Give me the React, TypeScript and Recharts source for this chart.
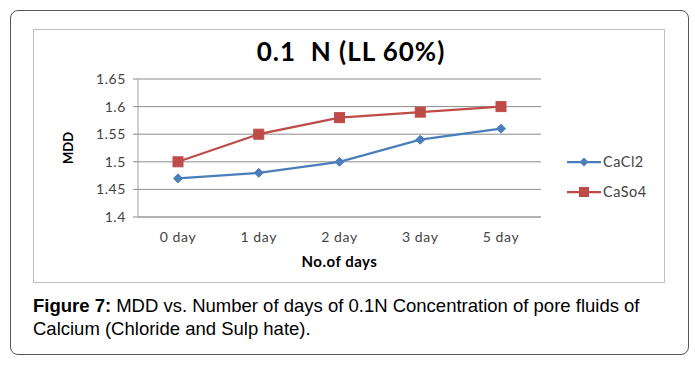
import React from "react";
import { LineChart, Line, XAxis, YAxis, CartesianGrid, Label } from "recharts";

const categories = ["0 day", "1 day", "2 day", "3 day", "5 day"];
const cacl2 = [1.47, 1.48, 1.5, 1.54, 1.56];
const caso4 = [1.5, 1.55, 1.58, 1.59, 1.6];
const yTicks = [1.4, 1.45, 1.5, 1.55, 1.6, 1.65];

const data = categories.map((c, i) => ({ day: c, CaCl2: cacl2[i], CaSo4: caso4[i] }));

const BLUE = "#4A7EBB";
const RED = "#BE4B48";
const FONT = "Lato, 'Open Sans', sans-serif";

const Diamond = (props: any) => {
  const { cx, cy } = props;
  if (cx == null || cy == null) return null;
  const r = 4.5;
  return <path d={`M${cx},${cy - r}L${cx + r},${cy}L${cx},${cy + r}L${cx - r},${cy}Z`} fill={BLUE} stroke={BLUE} strokeWidth={1} />;
};

const Square = (props: any) => {
  const { cx, cy } = props;
  if (cx == null || cy == null) return null;
  const s = 10;
  return <rect x={cx - s / 2} y={cy - s / 2} width={s} height={s} fill={RED} stroke={RED} strokeWidth={1} />;
};

export default function App() {
  return (
    <div style={{ position: "absolute", left: 0, top: 0, width: 695, height: 365, background: "#fff" }}>
      <div
        style={{
          position: "absolute",
          left: 10,
          top: 10,
          width: 677,
          height: 343,
          border: "1.5px solid #555",
          borderRadius: 8,
        }}
      />
      <div
        style={{
          position: "absolute",
          left: 33,
          top: 29,
          width: 632,
          height: 254,
          border: "1.5px solid #c0c0c0",
          boxSizing: "border-box",
        }}
      />
      <div
        style={{
          position: "absolute",
          left: 33,
          top: 35,
          width: 632,
          textAlign: "center",
          fontFamily: FONT,
          fontWeight: 700,
          fontSize: 26,
          letterSpacing: 1,
          color: "#000",
          paddingLeft: 2,
          whiteSpace: "pre",
        }}
      >
        {"0.1  N (LL 60%)"}
      </div>
      <div style={{ position: "absolute", left: 33, top: 29 }}>
        <LineChart
          width={632}
          height={254}
          data={data}
          margin={{ top: 50, right: 124, bottom: 0, left: 0 }}
        >
          <CartesianGrid vertical={false} stroke="#8c8c8c" strokeWidth={1} />
          <XAxis
            dataKey="day"
            stroke="#a0a0a0"
            tickLine={false}
            padding={{ left: 40, right: 40 }}
            tick={{ fill: "#444", fontSize: 14, fontFamily: FONT, letterSpacing: 0.6 }}
            tickMargin={9}
            height={66}
          >
            <Label
              value="No.of days"
              position="insideTop"
              offset={39}
              style={{ fill: "#000", fontSize: 15, fontWeight: 700, fontFamily: FONT, letterSpacing: 0.5 }}
            />
          </XAxis>
          <YAxis
            domain={[1.4, 1.65]}
            ticks={yTicks}
            stroke="#a0a0a0"
            tickLine={{ stroke: "#8c8c8c" }}
            tickSize={5}
            tickMargin={7}
            width={105}
            tick={{ fill: "#444", fontSize: 14, fontFamily: FONT, letterSpacing: 0.6 }}
            interval={0}
          >
            <Label
              value="MDD"
              angle={-90}
              position="insideLeft"
              offset={35}
              style={{ fill: "#000", fontSize: 13, fontWeight: 700, fontFamily: FONT, textAnchor: "middle" }}
            />
          </YAxis>
          <Line
            type="linear"
            dataKey="CaCl2"
            stroke={BLUE}
            strokeWidth={2.25}
            dot={<Diamond />}
            isAnimationActive={false}
          />
          <Line
            type="linear"
            dataKey="CaSo4"
            stroke={RED}
            strokeWidth={2.25}
            dot={<Square />}
            isAnimationActive={false}
          />
        </LineChart>
      </div>
      <svg style={{ position: "absolute", left: 560, top: 150 }} width={110} height={55}>
        <line x1={7} y1={12} x2={41} y2={12} stroke={BLUE} strokeWidth={2.25} />
        <path d="M24,7.5L28.5,12L24,16.5L19.5,12Z" fill={BLUE} />
        <text x={43} y={17} fontSize={14.5} fontFamily={FONT} fill="#444" letterSpacing={0.5}>CaCl2</text>
        <line x1={7} y1={42} x2={41} y2={42} stroke={RED} strokeWidth={2.25} />
        <rect x={19} y={37} width={10} height={10} fill={RED} />
        <text x={43} y={47} fontSize={14.5} fontFamily={FONT} fill="#444" letterSpacing={0.5}>CaSo4</text>
      </svg>
      <div
        style={{
          position: "absolute",
          left: 33,
          top: 294,
          width: 650,
          fontFamily: "'Liberation Sans', Arial, sans-serif",
          fontSize: 18.5,
          lineHeight: "23px",
          color: "#000",
          whiteSpace: "nowrap",
        }}
      >
        <div>
          <b style={{ marginRight: 5 }}>Figure 7:</b>
          <span>MDD vs. Number of days of 0.1N Concentration of pore fluids of</span>
        </div>
        <div>Calcium (Chloride and Sulp hate).</div>
      </div>
    </div>
  );
}
